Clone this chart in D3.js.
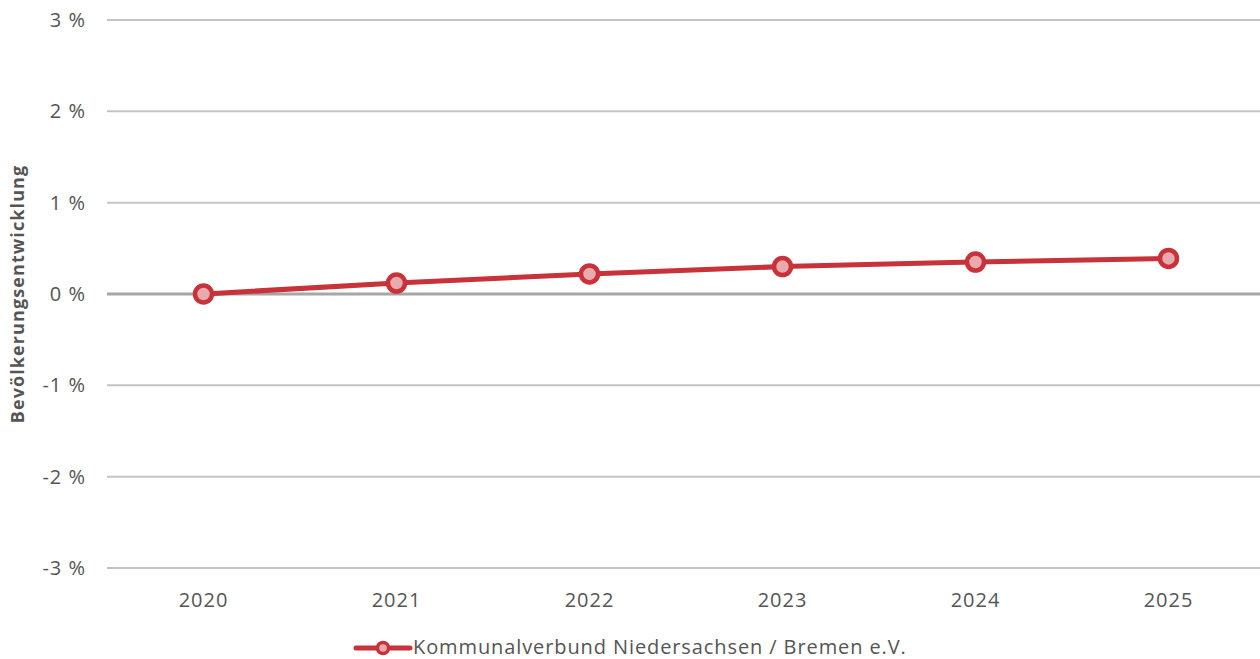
<!DOCTYPE html>
<html><head><meta charset="utf-8">
<script src="https://cdn.jsdelivr.net/npm/d3@7"></script>
<style>body{margin:0;background:#fff;} svg{display:block;font-family:"Open Sans", sans-serif;}</style>
</head><body>
<svg id="c" width="1260" height="659"></svg>
<script>
const years = ["2020","2021","2022","2023","2024","2025"];
const values = [0, 0.12, 0.22, 0.30, 0.35, 0.39];
const yTicks = [-3,-2,-1,0,1,2,3];
const seriesName = "Kommunalverbund Niedersachsen / Bremen e.V.";
const yTitle = "Bevölkerungsentwicklung";

const svg = d3.select("#c");
const x = d3.scaleBand().domain(years).range([107, 1265]);
const y = d3.scaleLinear().domain([-3,3]).range([568, 20]);
const red = "#c8323a";

const g = svg.append("g");
g.selectAll("line.grid").data(yTicks).join("line")
  .attr("x1",107).attr("x2",1260)
  .attr("y1",d=>y(d)).attr("y2",d=>y(d))
  .attr("stroke",d=>d===0?"#a6a6a6":"#c4c4c4")
  .attr("stroke-width",d=>d===0?3:2);

g.selectAll("text.yl").data(yTicks).join("text")
  .attr("x",86).attr("y",d=>y(d)).attr("dy","0.35em")
  .attr("text-anchor","end").attr("font-size",20).attr("letter-spacing",1).attr("fill","#555")
  .text(d=>d+" %");

g.selectAll("text.xl").data(years).join("text")
  .attr("x",d=>x(d)+x.bandwidth()/2).attr("y",600).attr("dy","0.35em")
  .attr("text-anchor","middle").attr("font-size",20).attr("letter-spacing",1).attr("fill","#555")
  .text(d=>d);

svg.append("text").attr("transform","translate(24,294) rotate(-90)")
  .attr("text-anchor","middle").attr("font-size",18).attr("letter-spacing",1.1).attr("font-weight","bold").attr("fill","#555")
  .text(yTitle);

const pts = years.map((yr,i)=>[x(yr)+x.bandwidth()/2, y(values[i])]);
svg.append("path").attr("d", d3.line().curve(d3.curveMonotoneX)(pts))
  .attr("fill","none").attr("stroke",red).attr("stroke-width",5).attr("stroke-linecap","round");
svg.selectAll("circle.pt").data(pts).join("circle")
  .attr("cx",d=>d[0]).attr("cy",d=>d[1]).attr("r",8.5)
  .attr("fill","#e8aaad").attr("stroke",red).attr("stroke-width",4.5);

// legend
const lg = svg.append("g");
lg.append("line").attr("x1",356).attr("x2",410).attr("y1",648).attr("y2",648)
  .attr("stroke",red).attr("stroke-width",5).attr("stroke-linecap","round");
lg.append("circle").attr("cx",383).attr("cy",648).attr("r",5.5)
  .attr("fill","#e8aaad").attr("stroke",red).attr("stroke-width",3.5);
lg.append("text").attr("x",413).attr("y",647).attr("dy","0.35em")
  .attr("font-size",20).attr("letter-spacing",0.9).attr("fill","#555").text(seriesName);
</script>
</body></html>
